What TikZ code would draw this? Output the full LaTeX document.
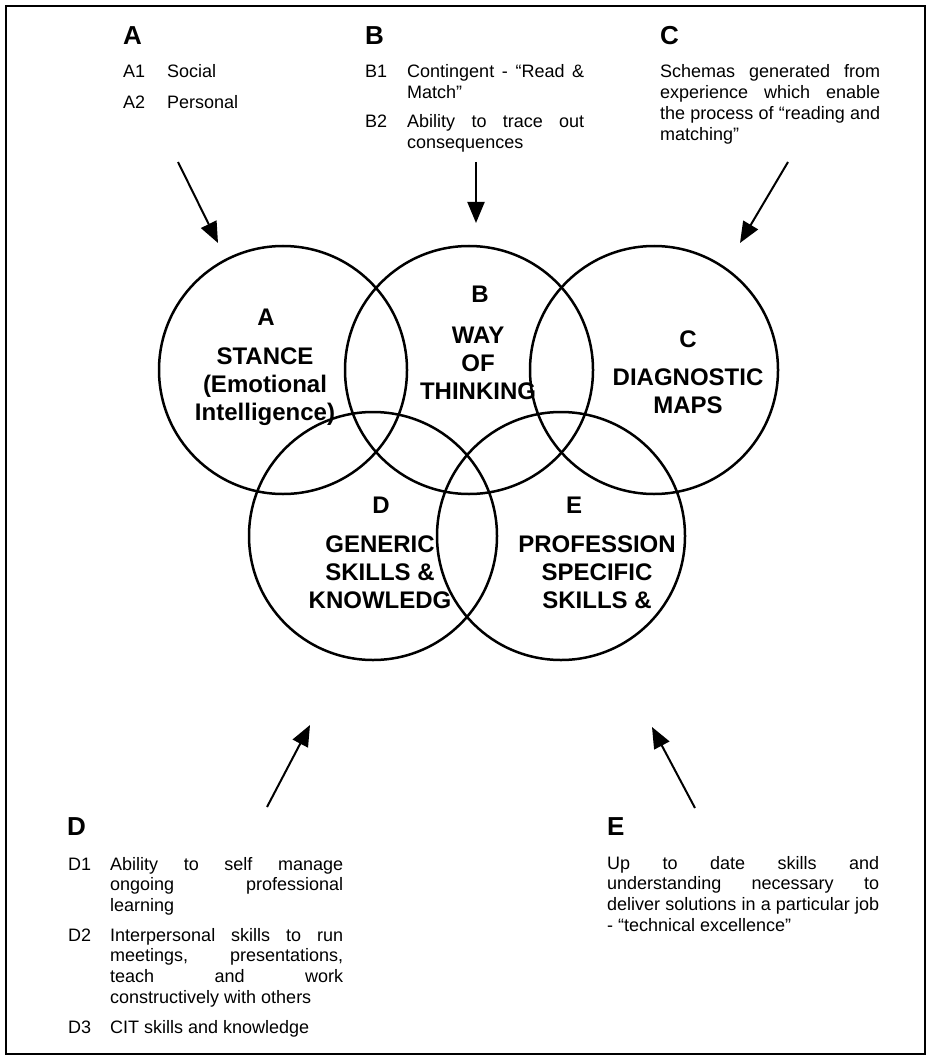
\documentclass[tikz,border=0pt]{standalone}
\usepackage{fontspec}
\setmainfont{Liberation Sans}
\usetikzlibrary{arrows.meta,positioning}
\hyphenpenalty=10000
\exhyphenpenalty=10000
\tolerance=10000

\tikzset{
    ring/.style={draw, circle, line width=2.5pt, minimum size=248pt, inner sep=0pt},
    ringltr/.style={anchor=base, inner sep=0pt, font=\fontsize{24}{28}\selectfont\bfseries},
    ringtxt/.style={anchor=base, align=center, inner sep=0pt, font=\fontsize{24}{28}\selectfont\bfseries},
    hdr/.style={anchor=base west, inner sep=0pt, font=\fontsize{26}{30}\selectfont\bfseries},
    itemno/.style={anchor=base west, inner sep=0pt, font=\fontsize{18}{20.7}\selectfont},
    itemtxt/.style={anchor=base west, align=justify, inner sep=0pt, font=\fontsize{18}{20.7}\selectfont},
    arr/.style={-{Triangle[length=21pt,width=17pt]}, line width=2pt}
}

\begin{document}
\begin{tikzpicture}[x=1pt,y=-1pt]
    \useasboundingbox (0,0) rectangle (930,1059);
    \draw[line width=2.2pt] (6,6) rectangle (925,1054);

    % Circles
    \node[ring] (A) at (283,370) {};
    \node[ring] (B) at (469,370) {};
    \node[ring] (C) at (654,370) {};
    \node[ring] (D) at (373,536) {};
    \node[ring] (E) at (561,536) {};

    % base of a centred block = its last line
    \node[ringltr] (Altr) at (266,325) {A};
    \node[ringtxt] (Atxt) at (265,420) {STANCE\\(Emotional\\Intelligence)};
    \node[ringltr] (Bltr) at (480,302) {B};
    \node[ringtxt] (Btxt) at (478,399) {WAY\\OF\\THINKING};
    \node[ringltr] (Cltr) at (688,347) {C};
    \node[ringtxt] (Ctxt) at (688,413) {DIAGNOSTIC\\MAPS};
    \node[ringltr] (Dltr) at (381,513) {D};
    \node[ringtxt] (Dtxt) at (380,608) {GENERIC\\SKILLS \&\\KNOWLEDG};
    \node[ringltr] (Eltr) at (574,513) {E};
    \node[ringtxt] (Etxt) at (597,608) {PROFESSION\\SPECIFIC\\SKILLS \&};

    % Top texts
    \node[hdr] (hA) at (123,45) {A};
    \node[itemno] (a1) at (123,78) {A1};
    \node[itemtxt] (a1t) at (167,78) {Social};
    \node[itemno] (a2) at (123,109) {A2};
    \node[itemtxt] (a2t) at (167,109) {Personal};

    \node[hdr] (hB) at (365,45) {B};
    \node[itemno] (b1) at (365,78) {B1};
    \node[itemtxt, text width=177pt] (b1t) at (407,78) {Contingent - “Read \&\linebreak Match”};
    \node[itemno] (b2) at (365,128) {B2};
    \node[itemtxt, text width=177pt] (b2t) at (407,128) {Ability to trace out\linebreak consequences};

    \node[hdr] (hC) at (660,45) {C};
    \node[itemtxt, text width=220pt] (ct) at (660,78) {Schemas generated from\linebreak experience which enable\linebreak the process of “reading and\linebreak matching”};

    % Bottom texts
    \node[hdr] (hD) at (67,835) {D};
    \node[itemno] (d1) at (68,870) {D1};
    \node[itemtxt, text width=233pt] (d1t) at (110,870) {Ability to self manage\linebreak ongoing professional\linebreak learning};
    \node[itemno] (d2) at (68,941) {D2};
    \node[itemtxt, text width=233pt] (d2t) at (110,941) {Interpersonal skills to run\linebreak meetings, presentations,\linebreak teach and work\linebreak constructively with others};
    \node[itemno] (d3) at (68,1033) {D3};
    \node[itemtxt] (d3t) at (110,1033) {CIT skills and knowledge};

    \node[hdr] (hE) at (607,835) {E};
    \node[itemtxt, text width=272pt] (et) at (607,869) {Up to date skills and\linebreak understanding necessary to\linebreak deliver solutions in a particular job\linebreak - “technical excellence”};

    % Arrows
    \coordinate (aA1) at (178,162); \coordinate (aA2) at (218,243);
    \coordinate (aB1) at (476,162); \coordinate (aB2) at (476,223);
    \coordinate (aC1) at (788,162); \coordinate (aC2) at (740,243);
    \coordinate (aD1) at (267,807); \coordinate (aD2) at (310,725);
    \coordinate (aE1) at (695,808); \coordinate (aE2) at (652,727);
    \draw[arr] (aA1) -- (aA2);
    \draw[arr] (aB1) -- (aB2);
    \draw[arr] (aC1) -- (aC2);
    \draw[arr] (aD1) -- (aD2);
    \draw[arr] (aE1) -- (aE2);
\end{tikzpicture}
\end{document}
